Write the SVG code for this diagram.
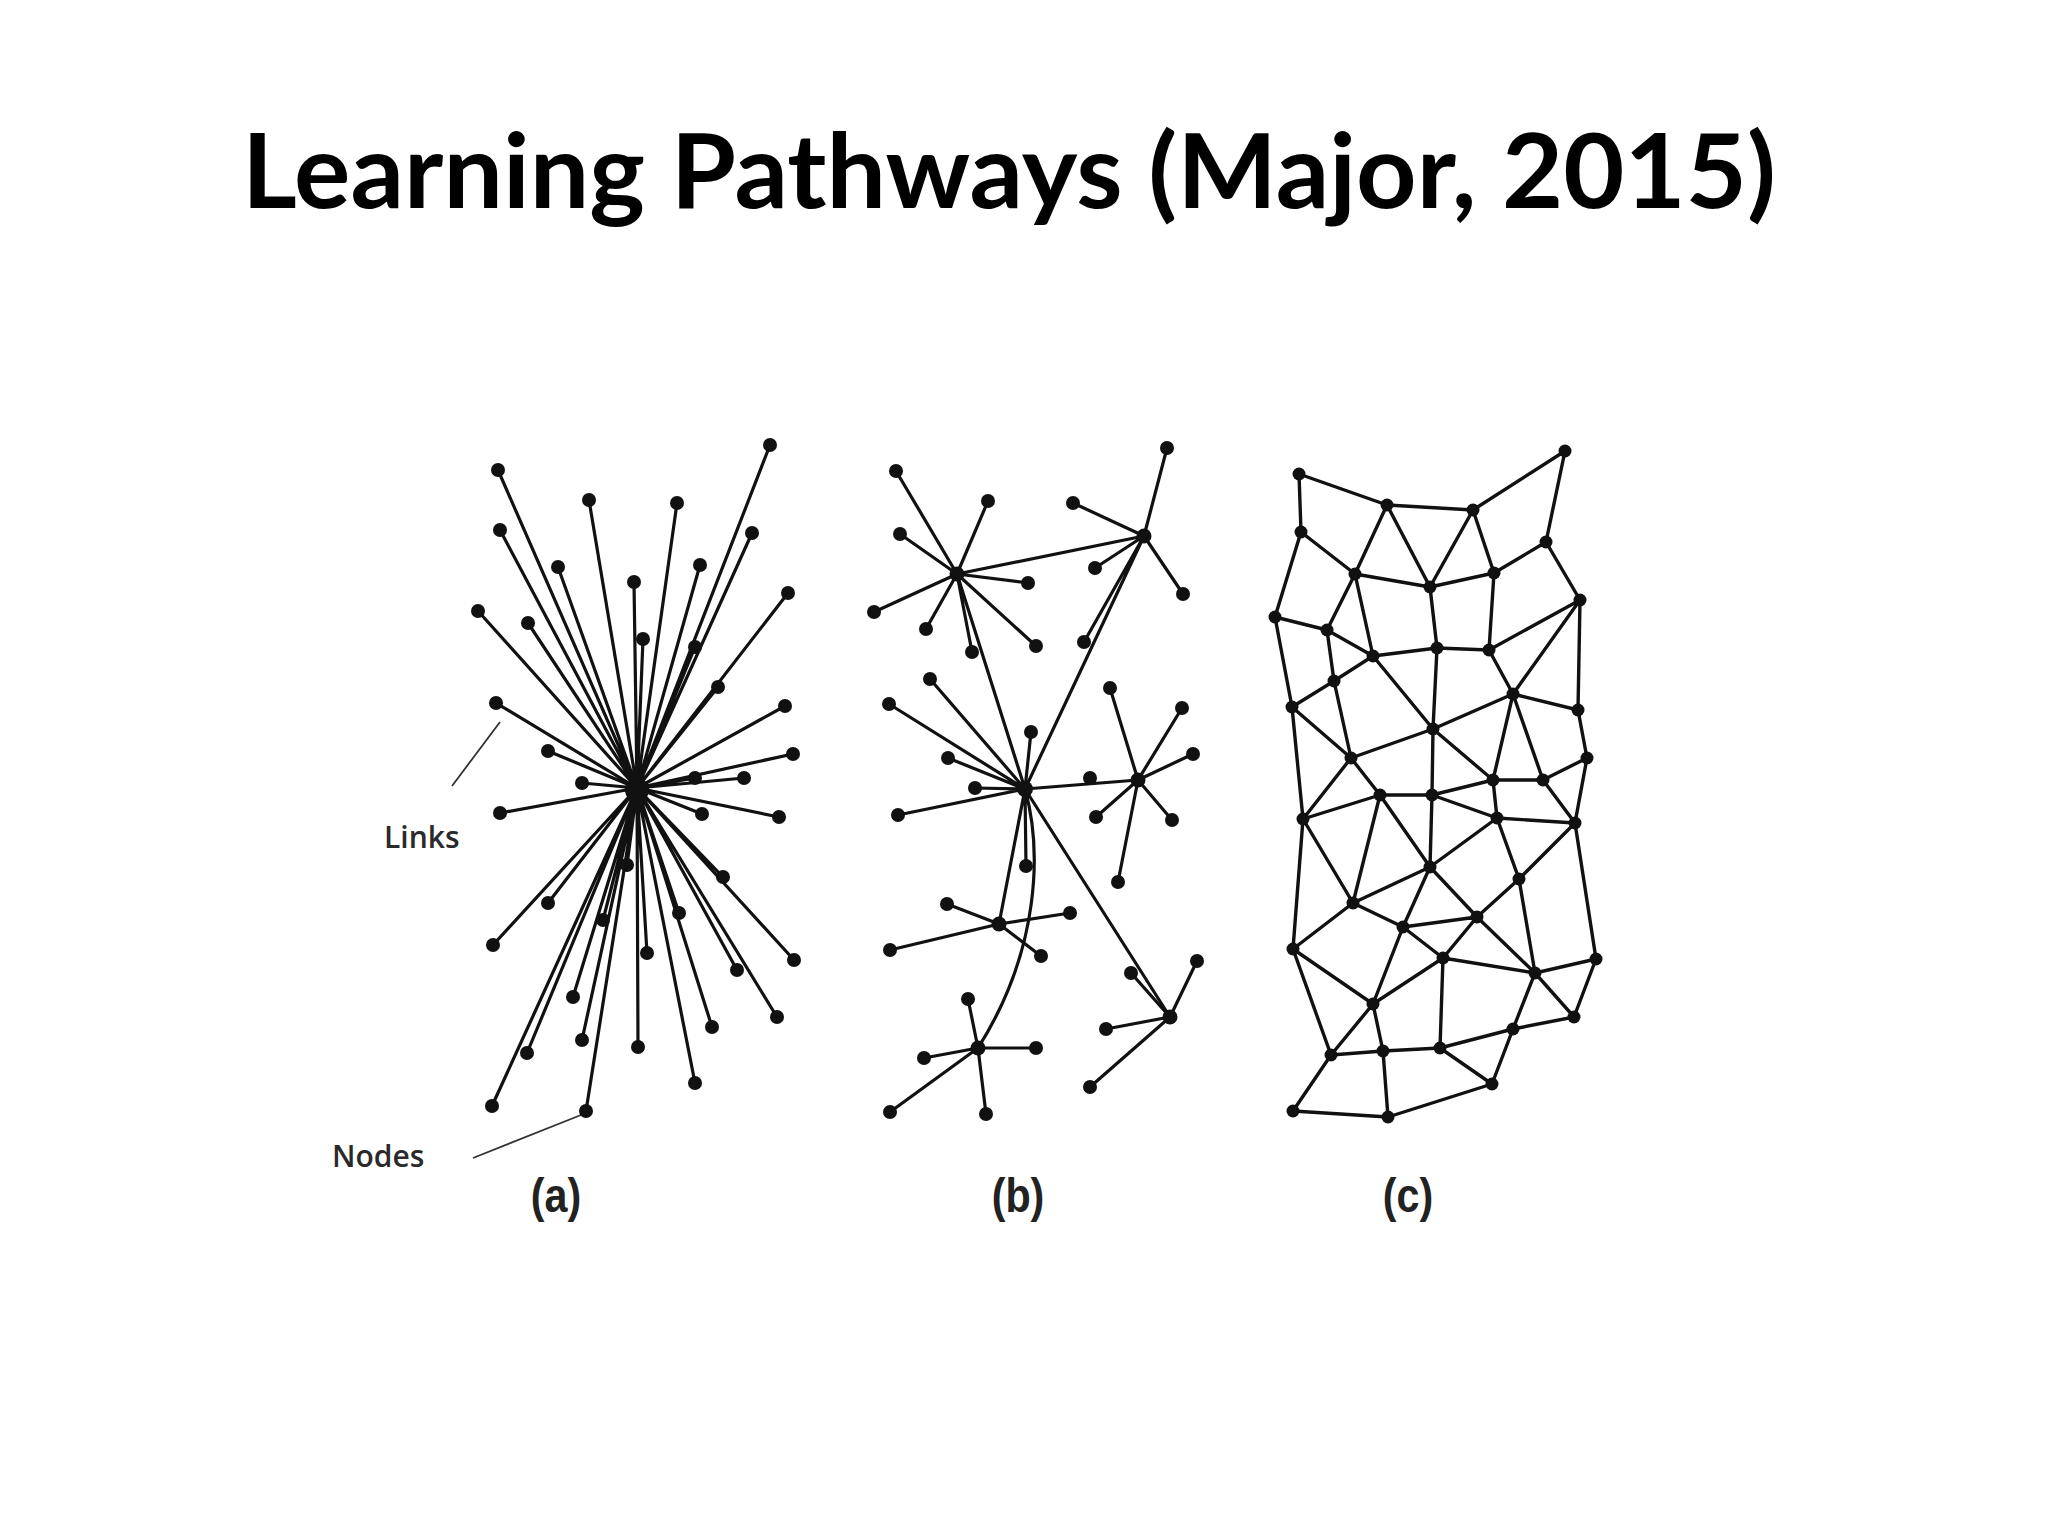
<svg xmlns="http://www.w3.org/2000/svg" width="2048" height="1536" viewBox="0 0 2048 1536">
<style>
.t{font-family:Lato,"Open Sans","Liberation Sans",sans-serif;font-weight:bold;fill:#000}
.lbl{font-family:"Liberation Sans",Arial,sans-serif;font-weight:bold;fill:#222}
.cap{font-family:"Open Sans",Lato,"Liberation Sans",sans-serif;fill:#2a2a2a}
.e{stroke:#111;stroke-width:3.2;fill:none;stroke-linecap:round}
.ec{stroke:#111;stroke-width:3.4;fill:none;stroke-linecap:round}
.p{stroke:#333;stroke-width:1.8;fill:none}
.n circle{fill:#111}
</style>
<rect width="2048" height="1536" fill="#fff"/>
<text class="t" x="242" y="208" font-size="104" textLength="1534" lengthAdjust="spacingAndGlyphs">Learning Pathways (Major, 2015)</text>

<g id="connectors">
<g id="conn-a">
<path class="e" d="M637 788L498 470M637 788L770 445M637 788L589 500M637 788L677 503M637 788L500 530M637 788L752 533M637 788L558 567M637 788L700 565M637 788L634 582M637 788L788 593M637 788L478 611M637 788L528 623M637 788L643 639M637 788L695 647M637 788L718 687M637 788L785 706M637 788L496 703M637 788L793 754M637 788L548 751M637 788L744 778M637 788L582 783M637 788L695 778M637 788L500 813M637 788L702 814M637 788L779 817M637 788L723 877M637 788L548 903M637 788L679 913M637 788L603 920M637 788L493 945M637 788L647 953M637 788L794 960M637 788L737 970M637 788L573 997M637 788L777 1017M637 788L712 1027M637 788L582 1040M637 788L638 1047M637 788L527 1053M637 788L695 1083M637 788L492 1106M637 788L586 1111M637 788L627 865"/>
<path class="p" d="M500 722L452 786M581 1115L473 1158"/>
</g>
<g id="conn-b">
<path class="e" d="M957 574L896 471M957 574L988 501M957 574L900 534M957 574L1028 583M957 574L874 612M957 574L926 629M957 574L972 652M957 574L1036 646M957 574L1144 536M957 574L1025 789M1144 536L1025 789M1144 536L1167 448M1144 536L1073 503M1144 536L1095 568M1144 536L1183 594M1144 536L1084 642"/>
<path class="e" d="M1025 789L930 679M1025 789L889 704M1025 789L1031 732M1025 789L948 758M1025 789L975 788M1025 789L898 815M1025 789L1026 866M1025 789L1138 780M1025 789L999 924M1025 789L1170 1017M1025 789C1042 850 1040 950 978 1048"/>
<path class="e" d="M1138 780L1110 688M1138 780L1182 708M1138 780L1193 754M1138 780L1096 817M1138 780L1172 820M1138 780L1118 882"/>
<path class="e" d="M999 924L947 904M999 924L1070 913M999 924L890 950M999 924L1041 956M978 1048L968 999M978 1048L924 1058M978 1048L1036 1048M978 1048L890 1112M978 1048L986 1114M1170 1017L1131 973M1170 1017L1197 961M1170 1017L1106 1029M1170 1017L1090 1087"/>
</g>
<g id="conn-c">
<path class="ec" d="M1299 474L1387 505M1299 474L1301 532M1387 505L1473 510M1473 510L1565 451M1565 451L1546 542M1301 532L1275 617M1301 532L1355 574M1387 505L1355 574M1387 505L1430 587M1473 510L1430 587M1473 510L1494 573M1355 574L1430 587M1430 587L1494 573M1494 573L1546 542M1546 542L1580 600M1275 617L1327 630M1355 574L1327 630M1355 574L1373 656M1430 587L1437 648M1494 573L1489 650M1580 600L1489 650M1580 600L1513 694M1580 600L1578 710M1327 630L1373 656M1373 656L1437 648M1437 648L1489 650M1327 630L1334 681M1373 656L1334 681M1489 650L1513 694M1275 617L1292 707M1334 681L1292 707M1334 681L1351 758M1373 656L1433 729M1437 648L1433 729M1513 694L1433 729M1513 694L1578 710M1513 694L1493 780M1513 694L1543 780M1292 707L1351 758M1433 729L1351 758M1578 710L1587 758M1433 729L1493 780M1493 780L1543 780M1543 780L1587 758"/>
<path class="ec" d="M1292 707L1303 819M1351 758L1303 819M1351 758L1380 795M1380 795L1303 819M1380 795L1432 795M1433 729L1432 795M1432 795L1493 780M1493 780L1497 818M1543 780L1575 823M1587 758L1575 823M1432 795L1497 818M1497 818L1575 823M1380 795L1353 903M1380 795L1430 867M1432 795L1430 867M1303 819L1353 903M1303 819L1293 949M1497 818L1430 867M1497 818L1519 879M1575 823L1519 879M1575 823L1596 959M1430 867L1353 903M1430 867L1403 927M1430 867L1477 917M1519 879L1477 917M1519 879L1535 973M1353 903L1293 949M1353 903L1403 927M1477 917L1403 927M1477 917L1443 958M1477 917L1535 973M1403 927L1443 958M1403 927L1373 1004M1293 949L1373 1004M1293 949L1331 1055M1443 958L1373 1004M1443 958L1535 973M1443 958L1440 1048M1596 959L1535 973M1596 959L1574 1017M1535 973L1574 1017M1535 973L1513 1029M1373 1004L1331 1055M1373 1004L1383 1051M1331 1055L1383 1051M1383 1051L1440 1048M1440 1048L1513 1029M1513 1029L1574 1017M1513 1029L1492 1084M1440 1048L1492 1084M1331 1055L1293 1111M1383 1051L1388 1117M1293 1111L1388 1117M1388 1117L1492 1084"/>
</g>
</g>

<g id="nodes-a" class="n">
<g id="a0"><circle cx="637" cy="790" r="12"/></g>
<g id="a1"><circle cx="498" cy="470" r="7"/></g>
<g id="a2"><circle cx="770" cy="445" r="7"/></g>
<g id="a3"><circle cx="589" cy="500" r="7"/></g>
<g id="a4"><circle cx="677" cy="503" r="7"/></g>
<g id="a5"><circle cx="500" cy="530" r="7"/></g>
<g id="a6"><circle cx="752" cy="533" r="7"/></g>
<g id="a7"><circle cx="558" cy="567" r="7"/></g>
<g id="a8"><circle cx="700" cy="565" r="7"/></g>
<g id="a9"><circle cx="634" cy="582" r="7"/></g>
<g id="a10"><circle cx="788" cy="593" r="7"/></g>
<g id="a11"><circle cx="478" cy="611" r="7"/></g>
<g id="a12"><circle cx="528" cy="623" r="7"/></g>
<g id="a13"><circle cx="643" cy="639" r="7"/></g>
<g id="a14"><circle cx="695" cy="647" r="7"/></g>
<g id="a15"><circle cx="718" cy="687" r="7"/></g>
<g id="a16"><circle cx="785" cy="706" r="7"/></g>
<g id="a17"><circle cx="496" cy="703" r="7"/></g>
<g id="a18"><circle cx="793" cy="754" r="7"/></g>
<g id="a19"><circle cx="548" cy="751" r="7"/></g>
<g id="a20"><circle cx="744" cy="778" r="7"/></g>
<g id="a21"><circle cx="582" cy="783" r="7"/></g>
<g id="a22"><circle cx="695" cy="778" r="7"/></g>
<g id="a23"><circle cx="500" cy="813" r="7"/></g>
<g id="a24"><circle cx="702" cy="814" r="7"/></g>
<g id="a25"><circle cx="779" cy="817" r="7"/></g>
<g id="a26"><circle cx="723" cy="877" r="7"/></g>
<g id="a27"><circle cx="548" cy="903" r="7"/></g>
<g id="a28"><circle cx="679" cy="913" r="7"/></g>
<g id="a29"><circle cx="603" cy="920" r="7"/></g>
<g id="a30"><circle cx="493" cy="945" r="7"/></g>
<g id="a31"><circle cx="647" cy="953" r="7"/></g>
<g id="a32"><circle cx="794" cy="960" r="7"/></g>
<g id="a33"><circle cx="737" cy="970" r="7"/></g>
<g id="a34"><circle cx="573" cy="997" r="7"/></g>
<g id="a35"><circle cx="777" cy="1017" r="7"/></g>
<g id="a36"><circle cx="712" cy="1027" r="7"/></g>
<g id="a37"><circle cx="582" cy="1040" r="7"/></g>
<g id="a38"><circle cx="638" cy="1047" r="7"/></g>
<g id="a39"><circle cx="527" cy="1053" r="7"/></g>
<g id="a40"><circle cx="695" cy="1083" r="7"/></g>
<g id="a41"><circle cx="492" cy="1106" r="7"/></g>
<g id="a42"><circle cx="586" cy="1111" r="7"/></g>
<g id="a43"><circle cx="627" cy="865" r="7"/></g>
</g>

<g id="nodes-b" class="n">
<g id="B1"><circle cx="957" cy="574" r="7.5"/></g>
<g id="B2"><circle cx="1144" cy="536" r="7.5"/></g>
<g id="B3"><circle cx="1025" cy="789" r="8"/></g>
<g id="B4"><circle cx="1138" cy="780" r="7.5"/></g>
<g id="B5"><circle cx="999" cy="924" r="7.5"/></g>
<g id="B6"><circle cx="978" cy="1048" r="7.5"/></g>
<g id="B7"><circle cx="1170" cy="1017" r="7.5"/></g>
<g id="b1"><circle cx="896" cy="471" r="7"/></g>
<g id="b2"><circle cx="988" cy="501" r="7"/></g>
<g id="b3"><circle cx="900" cy="534" r="7"/></g>
<g id="b4"><circle cx="1028" cy="583" r="7"/></g>
<g id="b5"><circle cx="874" cy="612" r="7"/></g>
<g id="b6"><circle cx="926" cy="629" r="7"/></g>
<g id="b7"><circle cx="972" cy="652" r="7"/></g>
<g id="b8"><circle cx="1036" cy="646" r="7"/></g>
<g id="b9"><circle cx="1167" cy="448" r="7"/></g>
<g id="b10"><circle cx="1073" cy="503" r="7"/></g>
<g id="b11"><circle cx="1095" cy="568" r="7"/></g>
<g id="b12"><circle cx="1183" cy="594" r="7"/></g>
<g id="b13"><circle cx="1084" cy="642" r="7"/></g>
<g id="b14"><circle cx="930" cy="679" r="7"/></g>
<g id="b15"><circle cx="889" cy="704" r="7"/></g>
<g id="b16"><circle cx="1031" cy="732" r="7"/></g>
<g id="b17"><circle cx="948" cy="758" r="7"/></g>
<g id="b18"><circle cx="975" cy="788" r="7"/></g>
<g id="b19"><circle cx="898" cy="815" r="7"/></g>
<g id="b20"><circle cx="1026" cy="866" r="7"/></g>
<g id="b21"><circle cx="1090" cy="778" r="7"/></g>
<g id="b22"><circle cx="1110" cy="688" r="7"/></g>
<g id="b23"><circle cx="1182" cy="708" r="7"/></g>
<g id="b24"><circle cx="1193" cy="754" r="7"/></g>
<g id="b25"><circle cx="1096" cy="817" r="7"/></g>
<g id="b26"><circle cx="1172" cy="820" r="7"/></g>
<g id="b27"><circle cx="1118" cy="882" r="7"/></g>
<g id="b28"><circle cx="947" cy="904" r="7"/></g>
<g id="b29"><circle cx="1070" cy="913" r="7"/></g>
<g id="b30"><circle cx="890" cy="950" r="7"/></g>
<g id="b31"><circle cx="1041" cy="956" r="7"/></g>
<g id="b32"><circle cx="968" cy="999" r="7"/></g>
<g id="b33"><circle cx="924" cy="1058" r="7"/></g>
<g id="b34"><circle cx="1036" cy="1048" r="7"/></g>
<g id="b35"><circle cx="890" cy="1112" r="7"/></g>
<g id="b36"><circle cx="986" cy="1114" r="7"/></g>
<g id="b37"><circle cx="1131" cy="973" r="7"/></g>
<g id="b38"><circle cx="1197" cy="961" r="7"/></g>
<g id="b39"><circle cx="1106" cy="1029" r="7"/></g>
<g id="b40"><circle cx="1090" cy="1087" r="7"/></g>
</g>

<g id="nodes-c" class="n">
<g id="c1"><circle cx="1299" cy="474" r="6.5"/></g>
<g id="c2"><circle cx="1387" cy="505" r="6.5"/></g>
<g id="c3"><circle cx="1473" cy="510" r="6.5"/></g>
<g id="c4"><circle cx="1565" cy="451" r="6.5"/></g>
<g id="c5"><circle cx="1301" cy="532" r="6.5"/></g>
<g id="c6"><circle cx="1546" cy="542" r="6.5"/></g>
<g id="c7"><circle cx="1355" cy="574" r="6.5"/></g>
<g id="c8"><circle cx="1430" cy="587" r="6.5"/></g>
<g id="c9"><circle cx="1494" cy="573" r="6.5"/></g>
<g id="c10"><circle cx="1580" cy="600" r="6.5"/></g>
<g id="c11"><circle cx="1275" cy="617" r="6.5"/></g>
<g id="c12"><circle cx="1327" cy="630" r="6.5"/></g>
<g id="c13"><circle cx="1373" cy="656" r="6.5"/></g>
<g id="c14"><circle cx="1437" cy="648" r="6.5"/></g>
<g id="c15"><circle cx="1489" cy="650" r="6.5"/></g>
<g id="c16"><circle cx="1334" cy="681" r="6.5"/></g>
<g id="c17"><circle cx="1513" cy="694" r="6.5"/></g>
<g id="c18"><circle cx="1292" cy="707" r="6.5"/></g>
<g id="c19"><circle cx="1578" cy="710" r="6.5"/></g>
<g id="c20"><circle cx="1433" cy="729" r="6.5"/></g>
<g id="c21"><circle cx="1351" cy="758" r="6.5"/></g>
<g id="c22"><circle cx="1587" cy="758" r="6.5"/></g>
<g id="c23"><circle cx="1493" cy="780" r="6.5"/></g>
<g id="c24"><circle cx="1543" cy="780" r="6.5"/></g>
<g id="c25"><circle cx="1380" cy="795" r="6.5"/></g>
<g id="c26"><circle cx="1432" cy="795" r="6.5"/></g>
<g id="c27"><circle cx="1303" cy="819" r="6.5"/></g>
<g id="c28"><circle cx="1497" cy="818" r="6.5"/></g>
<g id="c29"><circle cx="1575" cy="823" r="6.5"/></g>
<g id="c30"><circle cx="1430" cy="867" r="6.5"/></g>
<g id="c31"><circle cx="1519" cy="879" r="6.5"/></g>
<g id="c32"><circle cx="1353" cy="903" r="6.5"/></g>
<g id="c33"><circle cx="1477" cy="917" r="6.5"/></g>
<g id="c34"><circle cx="1403" cy="927" r="6.5"/></g>
<g id="c35"><circle cx="1293" cy="949" r="6.5"/></g>
<g id="c36"><circle cx="1443" cy="958" r="6.5"/></g>
<g id="c37"><circle cx="1596" cy="959" r="6.5"/></g>
<g id="c38"><circle cx="1535" cy="973" r="6.5"/></g>
<g id="c39"><circle cx="1373" cy="1004" r="6.5"/></g>
<g id="c40"><circle cx="1574" cy="1017" r="6.5"/></g>
<g id="c41"><circle cx="1513" cy="1029" r="6.5"/></g>
<g id="c42"><circle cx="1440" cy="1048" r="6.5"/></g>
<g id="c43"><circle cx="1331" cy="1055" r="6.5"/></g>
<g id="c44"><circle cx="1383" cy="1051" r="6.5"/></g>
<g id="c45"><circle cx="1492" cy="1084" r="6.5"/></g>
<g id="c46"><circle cx="1293" cy="1111" r="6.5"/></g>
<g id="c47"><circle cx="1388" cy="1117" r="6.5"/></g>
</g>

<g id="labels">
<text class="cap" x="384" y="848" font-size="30" font-weight="600">Links</text>
<text class="cap" x="332" y="1167" font-size="30" font-weight="600">Nodes</text>
<text class="lbl" font-size="48" text-anchor="middle" transform="translate(556 1212) scale(0.86 1)">(a)</text>
<text class="lbl" font-size="48" text-anchor="middle" transform="translate(1018 1212) scale(0.86 1)">(b)</text>
<text class="lbl" font-size="48" text-anchor="middle" transform="translate(1408 1212) scale(0.86 1)">(c)</text>
</g>
</svg>
